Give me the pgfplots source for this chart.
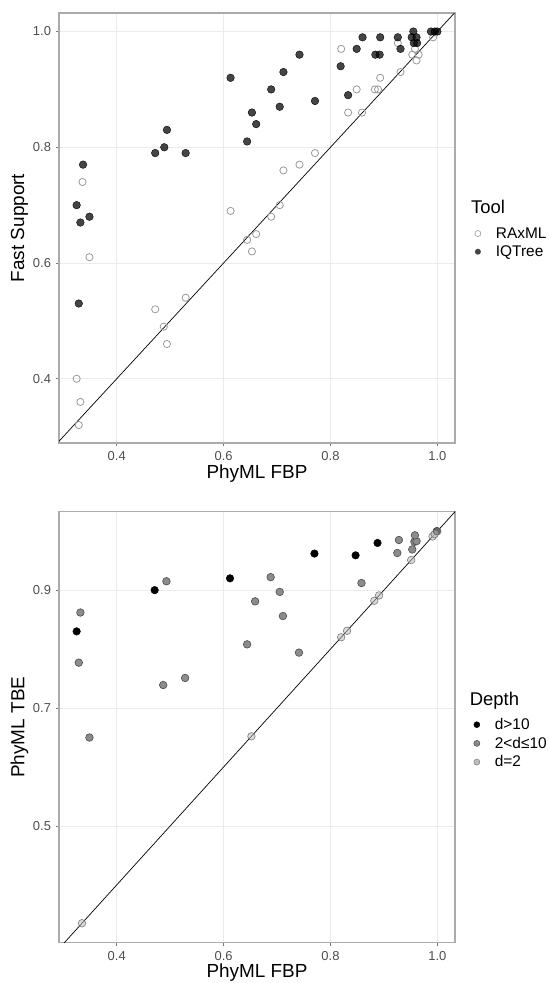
\documentclass[border=0pt]{standalone}
\usepackage{fontspec}
\setmainfont{Liberation Sans}
\usepackage{pgfplots}
\pgfplotsset{compat=1.18}

\definecolor{ticktext}{HTML}{4D4D4D}
\definecolor{border}{HTML}{ABABAB}
\definecolor{gridc}{HTML}{EBEBEB}
\definecolor{raxml}{HTML}{999999}
\definecolor{midgray}{HTML}{8C8C8C}
\definecolor{lightg}{HTML}{BDBDBD}

\pgfplotsset{
  panel/.style={
    scale only axis, width=396bp,
    xmin=0.292, xmax=1.033,
    xtick={0.4,0.6,0.8,1.0},
    grid=major, major grid style={gridc, line width=0.7bp},
    axis line style={border, line width=1.1bp},
    tick align=outside, major tick length=3bp,
    tick style={border!70!black, line width=0.7bp},
    xtick pos=left, ytick pos=left,
    clip mode=individual,
    ticklabel style={font=\fontsize{13}{15}\selectfont, text=ticktext},
    xticklabel style={yshift=-2bp, /pgf/number format/.cd, fixed, fixed zerofill, precision=1, assume math mode=true},
    yticklabel style={xshift=-1.5bp, /pgf/number format/.cd, fixed, fixed zerofill, precision=1, assume math mode=true},
    label style={font=\fontsize{19}{22}\selectfont},
    legend cell align=left,
  },
  keyimg/.style={legend image code/.code={%
      \draw[#1] (0bp,0bp) circle (3bp);
      \path[draw=none, fill=none] (-5bp,-4bp) rectangle (18bp,4bp);}},
}

\begin{document}
\begin{tikzpicture}
\useasboundingbox (0,0) rectangle (549bp,-983bp);

% top panel: fast support vs PhyML FBP
\begin{axis}[panel,
  at={(59bp,-13bp)}, anchor=north west,
  height=430bp,
  ymin=0.289, ymax=1.032,
  ytick={0.4,0.6,0.8,1.0},
  xlabel={PhyML FBP}, ylabel={Fast Support},
  xlabel style={at={(axis description cs:0.5,-0.0721)}, anchor=center},
  ylabel style={at={(axis description cs:-0.0995,0.5)}, anchor=center},
  legend style={draw=none, fill=none, inner sep=0pt,
    at={(axis description cs:1.0447,0.5017)}, anchor=north west,
    font=\fontsize{15.5}{17}\selectfont, row sep=6bp,
    nodes={inner sep=0pt}},
]
\addplot[black, line width=0.7bp, forget plot] coordinates {(0.2,0.2) (1.1,1.1)};

\addplot[only marks, mark=o, mark size=3.6bp, mark options={raxml, line width=0.8bp}, forget plot] coordinates {
(0.336,0.74) (0.349,0.61) (0.325,0.40) (0.332,0.36) (0.329,0.32)
(0.472,0.52) (0.488,0.49) (0.494,0.46) (0.529,0.54)
(0.613,0.69) (0.644,0.64) (0.653,0.62) (0.661,0.65) (0.689,0.68)
(0.705,0.70) (0.712,0.76) (0.742,0.77) (0.771,0.79)
(0.820,0.97) (0.833,0.86) (0.849,0.90) (0.859,0.86) (0.883,0.90)
(0.889,0.90) (0.893,0.92) (0.926,0.98) (0.931,0.93) (0.953,0.96)
(0.965,0.96) (0.961,0.95) (0.958,0.97) (0.992,0.99)
};

\addplot[only marks, mark=*, mark size=3.8bp, mark options={draw=none, fill=black, fill opacity=0.73}, forget plot] coordinates {
(0.325,0.70) (0.337,0.77) (0.332,0.67) (0.349,0.68) (0.329,0.53)
(0.472,0.79) (0.489,0.80) (0.494,0.83) (0.529,0.79)
(0.613,0.92) (0.644,0.81) (0.653,0.86) (0.661,0.84) (0.689,0.90)
(0.705,0.87) (0.712,0.93) (0.742,0.96) (0.771,0.88)
(0.819,0.94) (0.833,0.89) (0.849,0.97) (0.860,0.99) (0.884,0.96)
(0.892,0.96) (0.893,0.99) (0.926,0.99) (0.931,0.97) (0.955,1.00)
(0.952,0.99) (0.961,0.99) (0.956,0.98) (0.962,0.98)
(0.988,1.00) (0.995,1.00) (1.000,1.00)
};

\addlegendimage{keyimg={raxml, line width=0.6bp}}
\addlegendentry{RAxML}
\addlegendimage{keyimg={draw=none, fill=black!73}}
\addlegendentry{IQTree}

\node[anchor=west, inner sep=0pt, font=\fontsize{18.5}{20}\selectfont]
  at (axis description cs:1.0404,0.549) {Tool};
\end{axis}

% bottom panel: PhyML TBE vs PhyML FBP
\begin{axis}[panel,
  at={(59bp,-511.7bp)}, anchor=north west,
  height=431bp,
  ymin=0.302, ymax=1.033,
  ytick={0.5,0.7,0.9},
  xlabel={PhyML FBP}, ylabel={PhyML TBE},
  xlabel style={at={(axis description cs:0.5,-0.0696)}, anchor=center},
  ylabel style={at={(axis description cs:-0.0995,0.5)}, anchor=center},
  legend style={draw=none, fill=none, inner sep=0pt,
    at={(axis description cs:1.042,0.521)}, anchor=north west,
    font=\fontsize{15.5}{17}\selectfont, row sep=6bp,
    nodes={inner sep=0pt}},
]
\addplot[black, line width=0.7bp, forget plot] coordinates {(0.2,0.2) (1.1,1.1)};

% 2<d<=10
\addplot[only marks, mark=*, mark size=3.8bp, mark options={draw=black!70, fill=midgray, line width=0.6bp}, forget plot] coordinates {
(0.332,0.862) (0.329,0.777) (0.349,0.650) (0.493,0.915) (0.487,0.739)
(0.528,0.751) (0.644,0.808) (0.659,0.881) (0.688,0.922) (0.705,0.897)
(0.711,0.856) (0.741,0.794) (0.858,0.912) (0.925,0.963) (0.928,0.985)
(0.953,0.969) (0.957,0.982) (0.961,0.983) (0.958,0.993)
};

% d>10
\addplot[only marks, mark=*, mark size=3.8bp, mark options={draw=black, fill=black}, forget plot] coordinates {
(0.325,0.830) (0.471,0.900) (0.612,0.920) (0.770,0.962) (0.847,0.959)
(0.888,0.980) (0.999,1.000)
};

% d=2
\addplot[only marks, mark=*, mark size=3.8bp, mark options={draw=black!70, fill=lightg, line width=0.6bp, fill opacity=0.55, draw opacity=0.7}, forget plot] coordinates {
(0.335,0.335) (0.652,0.652) (0.820,0.820) (0.831,0.831) (0.882,0.882)
(0.891,0.891) (0.951,0.951) (0.991,0.991) (0.995,0.995) (1.000,1.000)
};

\addlegendimage{keyimg={draw=black, fill=black}}
\addlegendentry{d>10}
\addlegendimage{keyimg={draw=black!70, fill=midgray, line width=0.5bp}}
\addlegendentry{2<d≤10}
\addlegendimage{keyimg={draw=black!50, fill=lightg, line width=0.5bp}}
\addlegendentry{d=2}

\node[anchor=west, inner sep=0pt, font=\fontsize{18.5}{20}\selectfont]
  at (axis description cs:1.0371,0.5615) {Depth};
\end{axis}
\end{tikzpicture}
\end{document}
